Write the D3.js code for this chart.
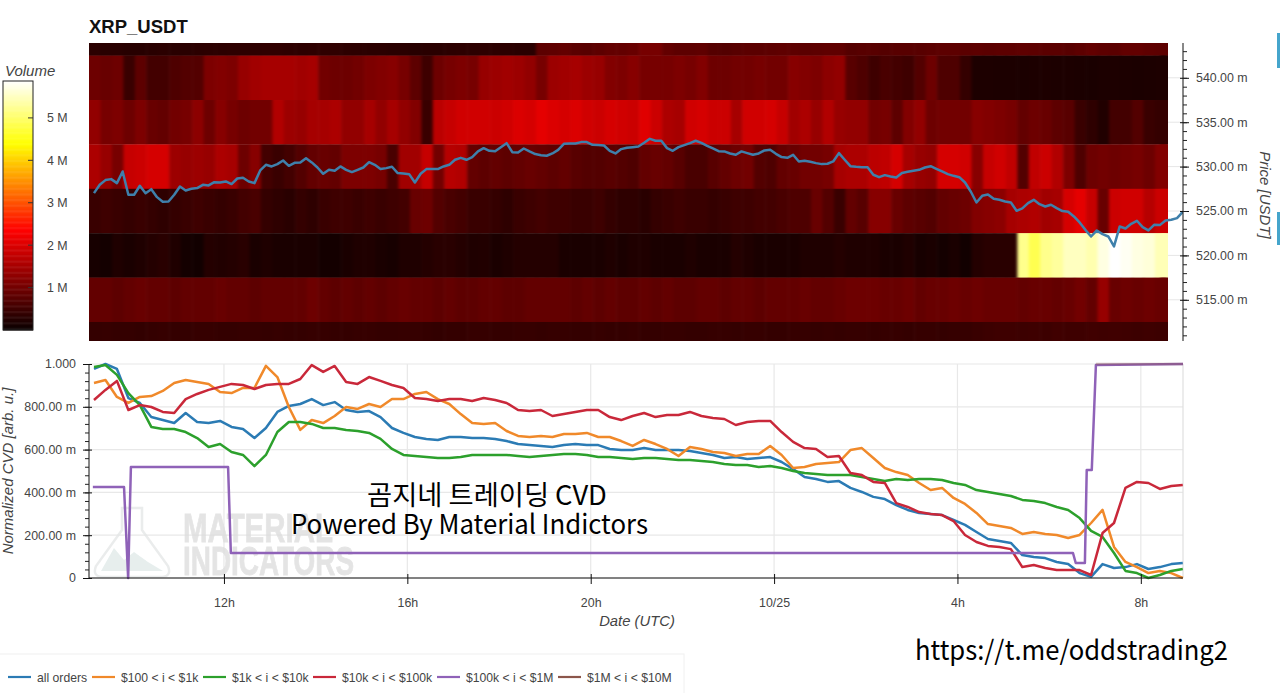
<!DOCTYPE html>
<html>
<head>
<meta charset="utf-8">
<script src="https://cdn.jsdelivr.net/npm/d3@7/dist/d3.min.js"></script>
<style>
  html, body { margin: 0; padding: 0; background: #fff; overflow: hidden; }
  svg { display: block; font-family: "Liberation Sans", Arial, sans-serif; }
  .tick text { fill: #444; font-size: 12.4px; }
</style>
</head>
<body>
<div id="chart"></div>
<script>
// heatmap rows, top to bottom, volume in millions per 15 min column
var rowPrices = [545, 540, 535, 530, 525, 520, 515, 510]
var row545 = [.32,.3,.3,.28,.28,.3,.32,.3,.3,.32,.33,.33,.34,.34,.35,.36,.36,.35,.34,.35,.36,.36,.34,.33,.32,.32,.3,.3,.28,.3,.3,.32,.33,.33,.34,.33,.32,.3,.3,.8,.82,.85,.78,.75,.8,.85,.85,.9,1.05,1.05,.85,.8,.8,.82,.72,.7,.75,.78,.78,.8,.82,.8,.78,.8,.82,.82,.72,.75,.75,.72,.75,.75,.75,.78,.8,.8,.78,.8,.78,.8,.8,.82,.8,.78,.78,.75,.8,.85,.8,.78,.85,.85,.82,.8]
var row540 = [.95,.9,.95,.45,.8,.55,.55,.65,.7,.7,1.1,1.15,1.1,1.35,1.45,1.5,1.5,1.5,1.45,1.5,1.0,.95,.95,1.0,1.1,1.15,1.2,1.05,.8,.5,.95,1.05,1.1,1.05,1.35,1.4,1.45,1.4,1.3,1.05,1.4,1.45,1.5,1.4,1.35,1.15,1.1,1.2,1.05,1.05,1.05,1.1,1.05,1.15,.95,.95,1.0,1.0,1.05,1.0,1.0,1.2,1.15,1.1,1.25,1.3,.75,.65,.5,.6,.55,.5,.7,.95,.65,.65,.4,.18,.18,.17,.17,.16,.17,.18,.17,.17,.16,.15,.17,.18,.17,.16,.17,.18]
var row535 = [1.3,1.05,1.1,.95,1.1,.9,.85,1.0,1.05,1.25,.95,1.2,1.05,.95,1.0,1.0,1.6,1.4,1.35,1.5,1.5,1.55,1.3,1.3,1.5,1.3,1.5,1.3,1.15,.45,1.7,1.8,1.9,1.9,1.9,1.85,1.9,2.0,1.95,2.1,2.0,1.95,2.0,1.9,1.85,1.95,1.9,1.85,2.05,1.85,1.55,1.5,1.9,1.95,1.85,1.85,1.5,1.9,1.9,1.95,1.8,1.45,1.55,1.35,1.6,1.35,1.3,1.3,1.0,1.05,.8,1.15,1.3,.95,1.0,1.0,1.0,1.2,1.15,1.1,1.05,.85,.95,.9,.8,.75,.45,.35,.22,.55,.55,.7,.45,.4]
var row530 = [1.55,1.35,1.05,1.8,1.85,1.95,1.95,1.4,1.35,1.4,1.35,1.55,1.5,.95,1.2,.55,.45,.55,.7,.85,.9,.85,1.1,1.1,1.1,1.05,.6,1.45,1.45,1.8,1.0,1.65,1.6,.85,.8,.85,.8,.85,.9,.85,.8,.85,.75,.7,.7,.75,.7,.65,.85,.9,.85,.75,.6,.6,.75,.85,.95,1.0,.7,.65,.85,.9,1.0,1.0,1.05,1.5,1.55,1.55,1.7,1.75,1.95,1.5,1.35,1.3,1.95,1.95,1.9,1.2,1.8,1.9,1.75,.7,1.75,1.85,1.6,1.1,.65,.95,1.0,.95,1.0,1.05,.95,1.15]
var row525 = [.45,.5,.45,.4,.45,.4,.35,.4,.45,.5,.45,.4,.45,.55,.6,.4,.35,.3,.4,.35,.45,.5,.5,.45,.5,.45,.5,.55,.9,.95,.7,.6,.55,.45,.45,.4,.35,.45,.5,.55,.5,.5,.45,.45,.5,.4,.35,.35,.3,.4,.45,.5,.45,.45,.4,.45,.5,.5,.55,.55,.6,.65,.65,.9,.7,.45,.85,.75,1.2,1.2,.9,.8,.75,.7,.85,.9,.95,1.15,1.2,1.25,1.5,1.55,1.6,1.45,1.5,1.95,2.1,1.8,.9,1.85,1.9,1.9,1.65,1.85]
var row520 = [.12,.1,.2,.15,.2,.25,.3,.2,.1,.08,.25,.22,.25,.3,.15,.2,.15,.15,.15,.15,.1,.1,.15,.2,.2,.15,.12,.2,.2,.25,.3,.3,.25,.2,.22,.15,.2,.25,.25,.25,.25,.15,.15,.15,.15,.2,.15,.2,.2,.15,.15,.15,.2,.15,.15,.15,.25,.2,.15,.15,.15,.15,.2,.2,.2,.25,.2,.2,.2,.15,.15,.2,.12,.15,.1,.15,.08,.25,.3,.3,.3,5.2,4.85,5.2,5.3,5.5,5.5,5.4,5.7,5.87,5.8,5.7,5.65,5.45]
var row515 = [.85,.85,.8,.85,.9,.85,.85,.8,.85,.85,.85,.9,.85,.85,.8,.85,.85,.85,.85,.95,.85,.8,.85,.8,.85,.8,.85,.9,.85,.85,.8,.85,.8,.8,.85,.85,.8,.8,.85,.85,.85,.85,.8,.85,.8,.85,.8,.8,.85,.8,.85,.8,.8,.85,.85,.8,.85,.85,.8,.85,.85,.85,.9,.85,.85,.9,.95,.95,.95,.9,.9,.95,.85,.9,.9,.95,.9,.95,.9,.9,.9,.85,.9,.9,.85,.9,1.0,.85,1.35,.9,.95,.9,.95,.9]
var row510 = [.4,.42,.4,.4,.38,.4,.42,.4,.4,.42,.42,.4,.4,.42,.42,.4,.42,.4,.4,.42,.42,.4,.4,.42,.42,.4,.4,.42,.42,.4,.38,.4,.4,.42,.42,.4,.4,.42,.42,.4,.42,.42,.4,.4,.42,.4,.4,.42,.4,.4,.42,.42,.4,.4,.42,.42,.4,.42,.42,.4,.4,.42,.42,.4,.42,.4,.42,.42,.4,.42,.42,.4,.42,.42,.4,.42,.42,.45,.48,.5,.5,.48,.5,.48,.52,.5,.5,.52,.5,.52,.5,.48,.5,.48]
var heatRows = [row545, row540, row535, row530, row525, row520, row515, row510]

// price every 7.5 min
var priceValues = [527.01,527.95,528.48,528.59,528.14,529.45,526.83,526.83,527.84,527.01,527.46,526.56,526.04,526.07,526.83,527.76,527.31,527.5,527.58,527.95,527.88,528.25,528.21,528.33,528.03,528.66,528.74,528.33,528.14,529.57,530.2,530.02,530.28,530.69,530.09,530.43,530.47,530.95,530.47,529.9,529.19,529.64,529.53,530.02,529.64,529.38,529.64,529.9,
530.5,530.2,529.72,529.83,529.98,529.27,529.23,529.15,528.21,529.19,529.72,529.72,529.72,530.02,530.2,530.77,530.99,530.77,531.07,531.71,532.08,531.78,531.74,532.19,532.64,531.63,531.59,532.04,531.71,531.41,531.29,531.22,531.48,531.89,532.57,532.61,532.61,532.76,532.76,532.46,532.42,532.38,531.78,531.48,531.97,532.12,532.19,532.27,
532.68,533.13,532.91,532.91,532.08,531.78,532.19,532.42,532.64,532.91,532.68,532.34,532.04,531.74,531.71,531.48,531.33,531.71,531.52,531.33,531.48,531.82,531.89,531.44,531.07,530.99,531.33,530.58,530.65,530.54,530.39,530.28,530.32,530.58,531.52,530.77,530.05,529.98,529.94,529.94,529.08,528.81,529.04,528.89,528.78,529.27,529.42,529.53,
529.64,529.9,530.05,529.75,529.45,529.15,528.96,528.81,528.21,527.2,525.96,526.71,526.86,526.37,526.26,526.07,525.96,525.02,525.29,525.89,526.26,525.77,525.51,525.7,525.32,524.99,524.91,524.39,523.71,522.88,522.13,522.81,522.4,522.13,521.01,523.26,523.03,523.56,523.9,523.18,522.81,523.45,523.41,523.93,524.01,524.2,524.91]

// normalized CVD in milli units, every 15 min
var allOrders = [977,1000,977,841,818,752,738,724,771,729,724,734,706,696,654,701,776,804,813,836,808,822,785,776,780,752,701,678,659,650,645,659,659,654,654,650,640,626,621,617,612,621,626,621,621,603,598,598,607,598,598,598,593,584,575,561,565,556,561,565,542,509,472,463,449,453,421,402,379,369,341,318,304,299,294,271,248,215,182,173,164,107,98,93,75,65,23,5,65,47,51,65,42,51,65,70]
var orders100to1k = [911,925,846,818,846,850,874,911,925,916,907,869,864,888,888,991,939,799,692,738,724,757,799,790,813,799,836,836,860,869,836,813,766,724,720,724,687,664,659,664,659,673,673,678,659,659,640,617,645,626,603,570,612,603,589,584,570,579,579,617,575,514,519,533,537,542,598,607,561,514,495,481,444,411,421,374,346,304,252,243,234,206,215,206,201,187,201,257,318,145,75,51,23,33,23,0]
var orders1kto10k = [986,995,949,864,808,706,696,696,682,654,612,626,589,575,523,575,682,729,729,720,701,701,692,687,678,650,603,575,570,565,561,561,565,575,575,575,575,570,565,570,575,579,579,575,565,565,561,556,561,561,556,551,551,547,542,533,528,528,519,523,514,500,491,486,481,481,481,472,463,453,463,458,463,463,458,444,435,411,402,393,383,365,360,350,332,318,280,220,192,117,33,23,0,14,33,42]
var orders10kto100k = [832,879,921,785,808,799,776,771,836,860,879,893,907,902,883,902,907,907,930,995,963,991,916,907,939,921,902,888,841,836,827,836,836,827,841,832,818,785,780,785,757,766,776,785,785,752,738,757,771,752,762,762,776,757,748,743,715,729,734,734,682,636,607,603,565,570,491,481,449,444,350,332,308,299,294,266,201,168,150,145,135,51,61,47,37,37,37,14,210,257,421,449,444,416,430,435]

// these two only move in steps, so they keep their own time stamps
var orders100kto1mHours = [9.14,9.82,9.91,9.97,12.09,12.15,30.52,30.58,30.78,30.82,30.93,31.02,32.92]
var orders100kto1m = [425,425,0,519,519,117,117,70,70,505,505,995,1000]
var orders1mto10mHours = [31.02,32.92]
var orders1mto10m = [1000,1000]

var timeTicks = [12, 16, 20, 24, 28, 32]
var timeLabels = ["12h", "16h", "20h", "10/25", "4h", "8h"]
var priceTicks = [515, 520, 525, 530, 535, 540]
var cvdTicks = [0, 200, 400, 600, 800, 1000]
var volumeTicks = [1, 2, 3, 4, 5]
var legendNames = ["all orders", "$100 < i < $1k", "$1k < i < $10k", "$10k < i < $100k", "$100k < i < $1M", "$1M < i < $10M"]
var legendColors = ["#2b7bb4", "#f0892a", "#2ca02c", "#c9283a", "#8f62b8", "#8c564b"]
var legendLineX = [8, 92, 203, 313, 437, 558]

var width = 1280, height = 693
var svg = d3.select("#chart").append("svg").attr("width", width).attr("height", height)
var defs = svg.append("defs")

var x = d3.scaleLinear().domain([9.056, 32.92]).range([89, 1183])
var yPrice = d3.scaleLinear().domain([510.36, 543.92]).range([341, 43])
var yCvd = d3.scaleLinear().domain([0, 1000]).range([578, 364])
var yVolume = d3.scaleLinear().domain([0, 5.87]).range([330, 81])
var heat = d3.scaleLinear().domain([0, 2.35, 4.38, 5.87]).range(["#0a0000", "#ff0000", "#ffff00", "#ffffff"]).clamp(true)

var gridTimes = d3.range(96).map(function(k) { return 9.165 + k * 0.25 })
var priceTimes = priceValues.map(function(d, k) { return 9.165 + k * 0.125 })

svg.append("text").attr("x", 89).attr("y", 33).attr("font-size", 18.5).attr("font-weight", "bold").attr("fill", "#111").text("XRP_USDT")

// heatmap
defs.append("clipPath").attr("id", "heatClip").append("rect")
  .attr("x", 89).attr("y", 43).attr("width", 1079).attr("height", 298)
defs.append("clipPath").attr("id", "priceClip").append("rect")
  .attr("x", 89).attr("y", 43).attr("width", 1094).attr("height", 298)
var softX = defs.append("filter").attr("id", "softX")
  .attr("filterUnits", "userSpaceOnUse")
  .attr("x", 60).attr("y", 0).attr("width", 1150).attr("height", 400)
  .attr("color-interpolation-filters", "sRGB")
softX.append("feGaussianBlur").attr("stdDeviation", "1.6 0")

var heatG = svg.append("g").attr("clip-path", "url(#heatClip)")
heatRows.forEach(function(row, i) {
  let top = yPrice(rowPrices[i] + 2.5)
  let bandHeight = yPrice(rowPrices[i] - 2.5) - top + 0.3
  let rowG = heatG.append("g").attr("filter", "url(#softX)")
  // row ends run past the clip so the blur does not fade there
  rowG.append("rect").attr("x", 70).attr("width", 20).attr("y", top).attr("height", bandHeight).attr("fill", heat(row[0]))
  rowG.append("rect").attr("x", 1160).attr("width", 30).attr("y", top).attr("height", bandHeight).attr("fill", heat(row[row.length - 1]))
  rowG.selectAll("rect.cell")
    .data(row)
    .enter()
    .append("rect")
    .attr("class", "cell")
    .attr("x", function(d, k) { return x(9.056 + k * 0.25) })
    .attr("width", x(9.306) - x(9.056) + 0.6)
    .attr("y", top)
    .attr("height", bandHeight)
    .attr("fill", function(d) { return heat(d) })
})

// price grid only shows in the gap right of the heatmap
svg.append("g").selectAll("line").data(priceTicks).enter().append("line")
  .attr("x1", 1168).attr("x2", 1183)
  .attr("y1", function(d) { return yPrice(d) }).attr("y2", function(d) { return yPrice(d) })
  .attr("stroke", "#e6e6e6")

var priceLine = d3.line()
  .x(function(d, k) { return x(priceTimes[k]) })
  .y(function(d) { return yPrice(d) })
svg.append("path").datum(priceValues)
  .attr("clip-path", "url(#priceClip)")
  .attr("d", priceLine).attr("fill", "none")
  .attr("stroke", "#3f80ab").attr("stroke-width", 2.5).attr("stroke-linejoin", "round")

// price axis
var priceAxis = svg.append("g").attr("transform", "translate(1183,0)")
  .call(d3.axisRight(yPrice).tickValues(priceTicks).tickSize(6).tickPadding(7)
    .tickFormat(function(d) { return d3.format(".2f")(d) + " m" }))
priceAxis.select(".domain").attr("stroke", "#111").attr("d", "M0,43V341")
priceAxis.selectAll(".tick line").attr("stroke", "#111").attr("x1", -3)
svg.append("g").attr("transform", "translate(1183,0)")
  .call(d3.axisRight(yPrice).tickValues(d3.range(511, 544)).tickSize(4).tickFormat(""))
  .call(function(g) { g.select(".domain").remove(); g.selectAll("line").attr("stroke", "#222") })
svg.append("text").attr("transform", "translate(1260,195) rotate(90)")
  .attr("text-anchor", "middle").attr("font-style", "italic").attr("font-size", 15).attr("fill", "#444")
  .text("Price [USDT]")

// stray blue marks at the page edge
svg.append("rect").attr("x", 1277).attr("y", 33).attr("width", 3).attr("height", 35).attr("fill", "#45a5cc")
svg.append("rect").attr("x", 1277).attr("y", 212).attr("width", 3).attr("height", 33).attr("fill", "#45a5cc")

// colour bar
svg.append("g").selectAll("rect").data(d3.range(0, 5.87, 0.02)).enter().append("rect")
  .attr("x", 3).attr("width", 30)
  .attr("y", function(d) { return yVolume(d + 0.02) })
  .attr("height", yVolume(0) - yVolume(0.02) + 0.5)
  .attr("fill", function(d) { return heat(d) })
svg.append("rect").attr("x", 3).attr("y", 81).attr("width", 30).attr("height", 249)
  .attr("fill", "none").attr("stroke", "#222").attr("stroke-width", 1)
var volumeAxis = svg.append("g").attr("transform", "translate(33,0)")
  .call(d3.axisRight(yVolume).tickValues(volumeTicks).tickSize(0).tickPadding(14)
    .tickFormat(function(d) { return d + " M" }))
volumeAxis.select(".domain").remove()
svg.append("g").selectAll("line").data(volumeTicks).enter().append("line")
  .attr("x1", 28).attr("x2", 33)
  .attr("y1", function(d) { return yVolume(d) }).attr("y2", function(d) { return yVolume(d) })
  .attr("stroke", "#333")
svg.append("text").attr("x", 5).attr("y", 76).attr("font-style", "italic").attr("font-size", 15).attr("fill", "#444").text("Volume")

// cvd panel grid
svg.append("g").selectAll("line").data(cvdTicks).enter().append("line")
  .attr("x1", 89).attr("x2", 1183)
  .attr("y1", function(d) { return yCvd(d) }).attr("y2", function(d) { return yCvd(d) })
  .attr("stroke", "#e8e8e8").attr("stroke-width", 1.2)
svg.append("g").selectAll("line").data(timeTicks).enter().append("line")
  .attr("x1", function(d) { return x(d) }).attr("x2", function(d) { return x(d) })
  .attr("y1", 364).attr("y2", 578)
  .attr("stroke", "#e8e8e8").attr("stroke-width", 1.2)
svg.append("line").attr("x1", 1183).attr("x2", 1183).attr("y1", 364).attr("y2", 578)
  .attr("stroke", "#e0e0e0").attr("stroke-width", 1.2)

// watermark
var mark = svg.append("g").attr("opacity", 0.75)
mark.append("path")
  .attr("d", "M122,508H142V530L168,566Q172,576 162,577H102Q92,576 96,566L122,530Z")
  .attr("fill", "none").attr("stroke", "#e4e6e6").attr("stroke-width", 2.5)
mark.append("path")
  .attr("d", "M101,571L114,548L124,560L134,552L148,562L163,571Z")
  .attr("fill", "#dfe9e8")
mark.append("text").attr("x", 183).attr("y", 542).attr("font-size", 41).attr("font-weight", "bold")
  .attr("fill", "#dcdcdc").attr("stroke", "#dcdcdc").attr("stroke-width", 0.8)
  .attr("textLength", 150).attr("lengthAdjust", "spacingAndGlyphs").text("MATERIAL")
mark.append("text").attr("x", 183).attr("y", 575).attr("font-size", 41).attr("font-weight", "bold")
  .attr("fill", "#dcdcdc").attr("stroke", "#dcdcdc").attr("stroke-width", 0.8)
  .attr("textLength", 171).attr("lengthAdjust", "spacingAndGlyphs").text("INDICATORS")

// cvd lines
var cvdLine = function(times) {
  return d3.line()
    .x(function(d, k) { return x(times[k]) })
    .y(function(d) { return yCvd(d) })
}
var cvdSeries = [
  {values: allOrders, times: gridTimes, color: legendColors[0]},
  {values: orders100to1k, times: gridTimes, color: legendColors[1]},
  {values: orders1kto10k, times: gridTimes, color: legendColors[2]},
  {values: orders10kto100k, times: gridTimes, color: legendColors[3]},
  {values: orders100kto1m, times: orders100kto1mHours, color: legendColors[4]},
  {values: orders1mto10m, times: orders1mto10mHours, color: legendColors[5], opacity: 0.35}
]
svg.append("g").selectAll("path").data(cvdSeries).enter().append("path")
  .attr("d", function(s) { return cvdLine(s.times)(s.values) })
  .attr("fill", "none")
  .attr("stroke", function(s) { return s.color })
  .attr("stroke-opacity", function(s) { return s.opacity || 1 })
  .attr("stroke-width", 2.5)
  .attr("stroke-linejoin", "round")

// cvd axes
var cvdAxis = svg.append("g").attr("transform", "translate(89,0)")
  .call(d3.axisLeft(yCvd).tickValues(cvdTicks).tickSize(6).tickPadding(7)
    .tickFormat(function(d) {
      if (d == 0) return "0"
      if (d == 1000) return "1.000"
      return d3.format(".2f")(d) + " m"
    }))
cvdAxis.select(".domain").attr("stroke", "#111").attr("d", "M0,364V578")
cvdAxis.selectAll(".tick line").attr("stroke", "#111").attr("x2", 3).attr("x1", -6)
svg.append("g").attr("transform", "translate(89,0)")
  .call(d3.axisLeft(yCvd).tickValues(d3.range(40, 1000, 40)).tickSize(4).tickFormat(""))
  .call(function(g) { g.select(".domain").remove(); g.selectAll("line").attr("stroke", "#222") })

var timeAxis = svg.append("g").attr("transform", "translate(0,578)")
  .call(d3.axisBottom(x).tickValues(timeTicks).tickSize(6).tickPadding(14)
    .tickFormat(function(d, i) { return timeLabels[i] }))
timeAxis.select(".domain").attr("stroke", "#111").attr("d", "M89,0H1183")
timeAxis.selectAll(".tick line").attr("stroke", "#111").attr("y1", -4)

svg.append("text").attr("transform", "translate(13,471) rotate(-90)")
  .attr("text-anchor", "middle").attr("font-style", "italic").attr("font-size", 15).attr("fill", "#444")
  .text("Normalized CVD [arb. u.]")
svg.append("text").attr("x", 637).attr("y", 626)
  .attr("text-anchor", "middle").attr("font-style", "italic").attr("font-size", 14.8).attr("fill", "#444")
  .text("Date (UTC)")

// legend
svg.append("rect").attr("x", -5).attr("y", 654).attr("width", 689).attr("height", 60)
  .attr("fill", "none").attr("stroke", "#f0f0f0")
var legend = svg.append("g").selectAll("g").data(legendNames).enter().append("g")
  .attr("transform", function(d, i) { return "translate(" + legendLineX[i] + ",677)" })
legend.append("line").attr("x2", 23)
  .attr("stroke", function(d, i) { return legendColors[i] }).attr("stroke-width", 2.2)
legend.append("text").attr("x", 29).attr("y", 4.5).attr("font-size", 12.2).attr("fill", "#444")
  .text(function(d) { return d })

// text pasted on top of the screenshot
var pasted = '"Noto Sans CJK KR", sans-serif'
svg.append("text").attr("x", 487).attr("y", 505).attr("text-anchor", "middle")
  .attr("font-family", pasted).attr("font-size", 27.3).attr("fill", "#000").text("곰지네 트레이딩 CVD")
svg.append("text").attr("x", 291).attr("y", 534)
  .attr("font-family", pasted).attr("font-size", 26.5).attr("fill", "#000")
  .attr("textLength", 357).attr("lengthAdjust", "spacingAndGlyphs").text("Powered By Material Indictors")
svg.append("text").attr("x", 915).attr("y", 660)
  .attr("font-family", pasted).attr("font-size", 27).attr("fill", "#000")
  .attr("textLength", 313).attr("lengthAdjust", "spacingAndGlyphs").text("https://t.me/oddstrading2")
</script>
</body>
</html>
